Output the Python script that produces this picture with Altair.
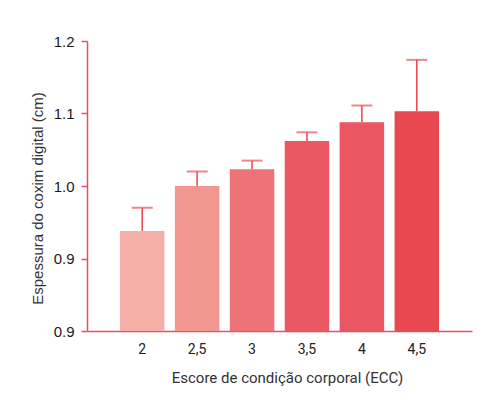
import altair as alt
import pandas as pd

categories = ["2", "2,5", "3", "3,5", "4", "4,5"]
means = [0.938, 1.000, 1.023, 1.062, 1.088, 1.103]
err_tops = [0.970, 1.020, 1.035, 1.074, 1.111, 1.174]
colors = ["#F4AFA6", "#F2978F", "#EE7379", "#EA5863", "#EA5661", "#E8484F"]

y_tick_values = [0.8, 0.85, 0.9, 0.95, 1.0, 1.05, 1.1, 1.15, 1.2]
y_tick_labels = ["0.9", "", "0.9", "", "1.0", "", "1.1", "", "1.2"]

df = pd.DataFrame({"cat": categories, "mean": means, "err": err_tops, "color": colors})

expr = "''"
for v, lab in zip(reversed(y_tick_values), reversed(y_tick_labels)):
    expr = f"abs(datum.value - {v}) < 0.001 ? '{lab}' : ({expr})"

AX = "#E8505A"

x_enc = alt.X(
    "cat:N",
    sort=categories,
    scale=alt.Scale(paddingInner=0.19, paddingOuter=0.6),
    axis=alt.Axis(
        title="Escore de condição corporal (ECC)",
        labelAngle=0,
        ticks=False,
        labelPadding=11,
        labelFont="Roboto",
        labelFontSize=14,
        labelColor="#222222",
        domainColor=AX,
        domainWidth=1.5,
        titleFont="Roboto",
        titleFontSize=15,
        titleFontWeight="normal",
        titleColor="#333333",
        titleX=200,
        titleY=46,
        titleBaseline="middle",
    ),
)

y_scale = alt.Scale(domain=[0.8, 1.2], nice=False, zero=False)

bars = alt.Chart(df).mark_bar().encode(
    x=x_enc,
    y=alt.Y(
        "mean:Q",
        scale=y_scale,
        axis=alt.Axis(
            title="Espessura do coxim digital (cm)",
            values=y_tick_values,
            labelExpr=expr,
            grid=False,
            tickColor=AX,
            tickWidth=1.5,
            tickSize={"condition": {"test": "round(datum.value*20) % 2 == 1", "value": 3}, "value": 6},
            domainColor=AX,
            domainWidth=1.5,
            labelPadding=7,
            labelFont="Liberation Sans",
            labelFontSize=15,
            labelColor="#1a1a1a",
            titleFont="Liberation Sans",
            titleFontSize=15,
            titleFontWeight="normal",
            titleColor="#333333",
            titleX=-50,
            titleY=157,
            titleBaseline="middle",
            titleAngle=-90,
        ),
    ),
    y2=alt.Y2(datum=0.8),
    color=alt.Color("color:N", scale=None),
)

err_line = alt.Chart(df).mark_rule(color="#E8434E", strokeWidth=1.5).encode(
    x=alt.X("cat:N", sort=categories),
    y=alt.Y("mean:Q", scale=y_scale),
    y2="err:Q",
)

caps = alt.Chart(df).mark_tick(color="#E8505A", size=21, thickness=2).encode(
    x=alt.X("cat:N", sort=categories),
    y=alt.Y("err:Q", scale=y_scale),
)

chart = (
    alt.layer(bars, err_line, caps)
    .properties(
        width=385,
        height=290,
        padding={"left": 87, "top": 41, "right": 22, "bottom": 69},
        autosize=alt.AutoSizeParams(type="none"),
        background="white",
    )
    .configure_view(stroke=None)
)

chart.save("out.html", embed_options={"renderer": "svg", "actions": False})
